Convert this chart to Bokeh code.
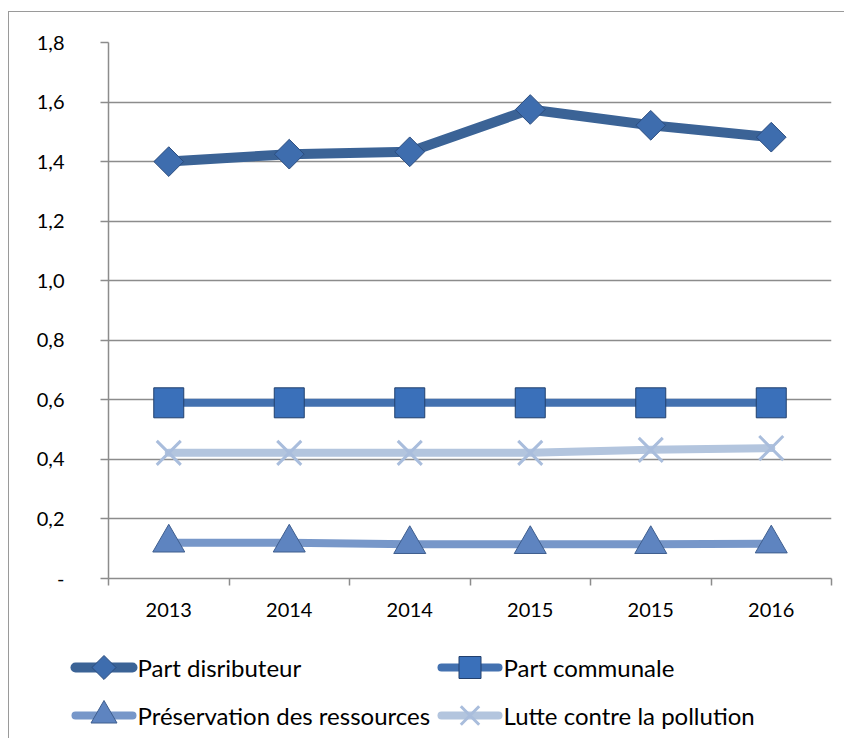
from bokeh.plotting import figure
from bokeh.models import Range1d, FixedTicker, CustomJSTickFormatter, ColumnDataSource
from bokeh.core.properties import value
from bokeh.embed import file_html
from bokeh.resources import INLINE
import math

# ---- data ----
years = ["2013", "2014", "2014", "2015", "2015", "2016"]
part_distributeur = [1.40, 1.425, 1.433, 1.575, 1.522, 1.482]
part_communale = [0.59, 0.59, 0.59, 0.59, 0.59, 0.59]
preservation = [0.12, 0.12, 0.115, 0.115, 0.115, 0.117]
lutte = [0.422, 0.422, 0.422, 0.422, 0.432, 0.438]
y_ticks = [0, 0.2, 0.4, 0.6, 0.8, 1.0, 1.2, 1.4, 1.6, 1.8]
series_names = ["Part disributeur", "Part communale",
                "Préservation des ressources", "Lutte contre la pollution"]

xs = [i + 0.5 for i in range(len(years))]
bounds = list(range(len(years) + 1))

FONT = "Lato"
GRID = "#8c8c8c"
BORDER = "1px solid #9a9a9a"

# styles per series
S1 = dict(line=dict(line_color="#3B6396", line_width=10, line_join="round", line_cap="round"),
          mark=dict(marker="square", angle=math.pi / 4, size=21,
                    fill_color="#3E6DAE", line_color="#2B4C7E", line_width=1))
S2 = dict(line=dict(line_color="#4371B0", line_width=8, line_join="round", line_cap="round"),
          mark=dict(marker="square", size=30,
                    fill_color="#3A70BA", line_color="#22406E", line_width=1))
S3 = dict(line=dict(line_color="#7797C9", line_width=8, line_join="round", line_cap="round"),
          mark=dict(marker="triangle", size=32,
                    fill_color="#5E84C0", line_color="#3F5E8E", line_width=1))
S4 = dict(line=dict(line_color="#B3C5DE", line_width=8, line_join="round", line_cap="round"),
          mark=dict(marker="x", size=34, line_color="#A9BDDC", line_width=3))

p = figure(width=836, height=629, output_backend="svg", toolbar_location=None,
           x_range=Range1d(0, len(years)), y_range=Range1d(0, 1.8),
           min_border_left=99, min_border_right=14, min_border_top=30, min_border_bottom=63)
p.outline_line_color = None
p.background_fill_color = "white"
p.border_fill_color = "white"
p.styles = {"border-top": BORDER, "border-left": BORDER}
p.margin = (11, 0, 0, 8)

# axes
p.xaxis.ticker = FixedTicker(ticks=xs, minor_ticks=bounds)
p.xaxis.formatter = CustomJSTickFormatter(args=dict(labels=years),
                                          code="return labels[Math.floor(tick)];")
p.xaxis.major_tick_out = 0
p.xaxis.major_tick_in = 0
p.xaxis.minor_tick_out = 7
p.xaxis.minor_tick_in = 0
p.xaxis.minor_tick_line_color = GRID
p.xaxis.minor_tick_line_width = 1.5
p.xaxis.axis_line_color = GRID
p.xaxis.axis_line_width = 1.5
p.xaxis.major_label_standoff = 17
p.xaxis.major_label_text_font = FONT
p.xaxis.major_label_text_font_size = "20px"
p.xaxis.major_label_text_color = "black"

p.yaxis.ticker = FixedTicker(ticks=y_ticks)
p.yaxis.formatter = CustomJSTickFormatter(
    code="return tick == 0 ? '-' : tick.toFixed(1).replace('.', ',');")
p.yaxis.major_tick_out = 8
p.yaxis.major_tick_in = 0
p.yaxis.minor_tick_line_color = None
p.yaxis.major_tick_line_color = GRID
p.yaxis.major_tick_line_width = 1.5
p.yaxis.axis_line_color = GRID
p.yaxis.axis_line_width = 1.5
p.yaxis.major_label_standoff = 36
p.yaxis.major_label_text_font = FONT
p.yaxis.major_label_text_font_size = "20px"
p.yaxis.major_label_text_color = "black"

p.xgrid.grid_line_color = None
p.ygrid.ticker = FixedTicker(ticks=y_ticks)
p.ygrid.grid_line_color = GRID
p.ygrid.grid_line_width = 1.5

src = ColumnDataSource(dict(x=xs, d=part_distributeur, c=part_communale,
                            p=preservation, l=lutte))

p.line("x", "d", source=src, **S1["line"])
p.scatter("x", "d", source=src, **S1["mark"])
p.line("x", "c", source=src, **S2["line"])
p.scatter("x", "c", source=src, **S2["mark"])
p.line("x", "l", source=src, **S4["line"])
p.scatter("x", "l", source=src, **S4["mark"])
p.line("x", "p", source=src, **S3["line"])
p.scatter("x", "p", source=src, **S3["mark"])

# ---- legend panel (separate root below the chart, pixel coordinates) ----
LW, LH = 836, 98
lg = figure(width=LW, height=LH, output_backend="svg", toolbar_location=None,
            x_range=Range1d(0, LW), y_range=Range1d(0, LH),
            x_axis_location=None, y_axis_location=None, min_border=0)
lg.outline_line_color = None
lg.xgrid.visible = False
lg.ygrid.visible = False
lg.background_fill_color = "white"
lg.border_fill_color = "white"
lg.styles = {"border-left": BORDER}
lg.margin = (0, 0, 0, 8)

# legend slots: (glyph left, row centre) in legend-panel pixels
slot_x = [62, 428, 62, 428]
slot_y = [LH - 27, LH - 27, LH - 75, LH - 75]
legend_marker_size = {"square": 22, "triangle": 26, "x": 26}
GW = 65
for name, st, gx, gy in zip(series_names, [S1, S2, S3, S4], slot_x, slot_y):
    lg.line([gx + 4, gx + GW - 4], [gy, gy], **st["line"])
    mk = dict(st["mark"])
    if mk["marker"] == "square" and "angle" in mk:
        mk["size"] = 17
    else:
        mk["size"] = legend_marker_size[mk["marker"]]
    lg.scatter([gx + GW / 2], [gy], **mk)
    lg.text([gx + GW + 1], [gy], text=[name], text_font=value(FONT),
            text_font_size="24px", text_baseline="middle", text_align="left",
            text_color="black")

open("out.html", "w").write(file_html([p, lg], INLINE))
